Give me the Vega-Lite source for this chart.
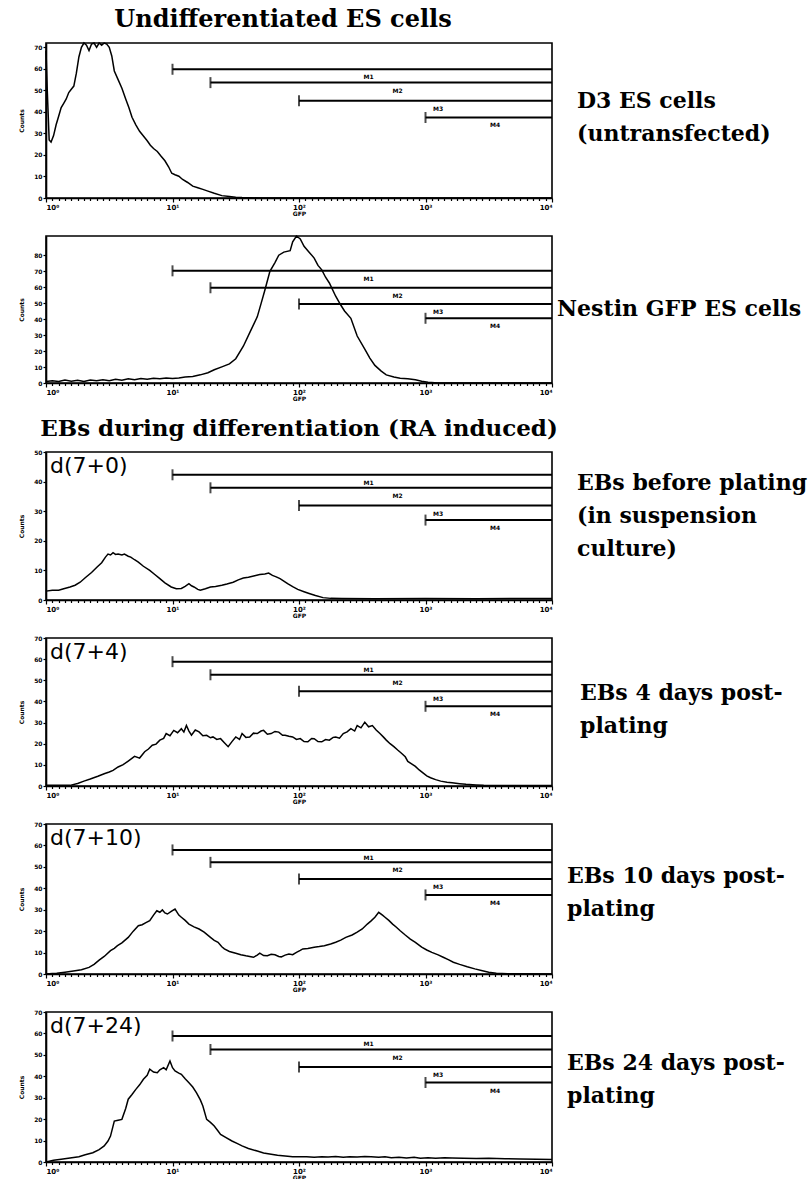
{
  "$schema": "https://vega.github.io/schema/vega-lite/v6.json",
  "background": "white",
  "padding": {"left": 17, "top": 7, "right": 0, "bottom": 0},
  "spacing": 15,
  "config": {
    "view": {"stroke": "black", "strokeWidth": 1.6},
    "font": "DejaVu Sans",
    "title": {"font": "DejaVu Serif", "fontSize": 23, "fontWeight": "bold", "color": "black", "anchor": "middle", "baseline": "bottom", "offset": 8},
    "axis": {"domainColor": "black", "domainWidth": 1.6, "tickColor": "black", "tickWidth": 1.2, "labelColor": "black", "labelFont": "DejaVu Sans", "labelFontSize": 6, "labelFontWeight": "bold", "titleColor": "black", "titleFont": "DejaVu Sans", "titleFontSize": 6, "titleFontWeight": "bold", "grid": false, "labelPadding": 1, "labelOverlap": false, "labelBound": false},
    "axisX": {"values": [0, 0.301, 0.477, 0.602, 0.699, 0.778, 0.845, 0.903, 0.954, 1, 1.301, 1.477, 1.602, 1.699, 1.778, 1.845, 1.903, 1.954, 2, 2.301, 2.477, 2.602, 2.699, 2.778, 2.845, 2.903, 2.954, 3, 3.301, 3.477, 3.602, 3.699, 3.778, 3.845, 3.903, 3.954, 4], "tickCount": 60, "labelFontSize": 7, "titlePadding": 0}
  },
  "datasets": {
    "gates": [
      {"panel": 1, "gate": "M1", "start": 1, "mid": 2.55, "level": 59.8},
      {"panel": 1, "gate": "M2", "start": 1.3, "mid": 2.78, "level": 53.6},
      {"panel": 1, "gate": "M3", "start": 2, "mid": 3.1, "level": 45.2},
      {"panel": 1, "gate": "M4", "start": 3, "mid": 3.55, "level": 37.4},
      {"panel": 2, "gate": "M1", "start": 1, "mid": 2.55, "level": 70.2},
      {"panel": 2, "gate": "M2", "start": 1.3, "mid": 2.78, "level": 59.6},
      {"panel": 2, "gate": "M3", "start": 2, "mid": 3.1, "level": 49.5},
      {"panel": 2, "gate": "M4", "start": 3, "mid": 3.55, "level": 40.5},
      {"panel": 3, "gate": "M1", "start": 1, "mid": 2.55, "level": 42.3},
      {"panel": 3, "gate": "M2", "start": 1.3, "mid": 2.78, "level": 37.9},
      {"panel": 3, "gate": "M3", "start": 2, "mid": 3.1, "level": 31.9},
      {"panel": 3, "gate": "M4", "start": 3, "mid": 3.55, "level": 27},
      {"panel": 4, "gate": "M1", "start": 1, "mid": 2.55, "level": 58.8},
      {"panel": 4, "gate": "M2", "start": 1.3, "mid": 2.78, "level": 52.6},
      {"panel": 4, "gate": "M3", "start": 2, "mid": 3.1, "level": 44.8},
      {"panel": 4, "gate": "M4", "start": 3, "mid": 3.55, "level": 37.7},
      {"panel": 5, "gate": "M1", "start": 1, "mid": 2.55, "level": 57.9},
      {"panel": 5, "gate": "M2", "start": 1.3, "mid": 2.78, "level": 52.1},
      {"panel": 5, "gate": "M3", "start": 2, "mid": 3.1, "level": 44.3},
      {"panel": 5, "gate": "M4", "start": 3, "mid": 3.55, "level": 36.9},
      {"panel": 6, "gate": "M1", "start": 1, "mid": 2.55, "level": 58.8},
      {"panel": 6, "gate": "M2", "start": 1.3, "mid": 2.78, "level": 52.5},
      {"panel": 6, "gate": "M3", "start": 2, "mid": 3.1, "level": 44.3},
      {"panel": 6, "gate": "M4", "start": 3, "mid": 3.55, "level": 37.1}
    ],
    "c1": [
      {"logGFP": 0, "count": 68.4}, {"logGFP": 0.01, "count": 50}, {"logGFP": 0.025, "count": 27}, {"logGFP": 0.04, "count": 26}, {"logGFP": 0.06, "count": 29}, {"logGFP": 0.08, "count": 34}, {"logGFP": 0.1, "count": 38}, {"logGFP": 0.12, "count": 42}, {"logGFP": 0.14, "count": 44}, {"logGFP": 0.16, "count": 46}, {"logGFP": 0.18, "count": 49}, {"logGFP": 0.2, "count": 50.5}, {"logGFP": 0.22, "count": 52}, {"logGFP": 0.24, "count": 58}, {"logGFP": 0.26, "count": 65.5}, {"logGFP": 0.28, "count": 70}, {"logGFP": 0.3, "count": 72}, {"logGFP": 0.32, "count": 71}, {"logGFP": 0.34, "count": 68.5}, {"logGFP": 0.36, "count": 71.5}, {"logGFP": 0.38, "count": 72}, {"logGFP": 0.4, "count": 70}, {"logGFP": 0.42, "count": 72}, {"logGFP": 0.44, "count": 71}, {"logGFP": 0.46, "count": 72}, {"logGFP": 0.48, "count": 71.5}, {"logGFP": 0.5, "count": 70}, {"logGFP": 0.52, "count": 66}, {"logGFP": 0.54, "count": 59}, {"logGFP": 0.57, "count": 55}, {"logGFP": 0.6, "count": 51}, {"logGFP": 0.63, "count": 46}, {"logGFP": 0.655, "count": 42}, {"logGFP": 0.68, "count": 37.5}, {"logGFP": 0.71, "count": 34}, {"logGFP": 0.74, "count": 31}, {"logGFP": 0.77, "count": 28.8}, {"logGFP": 0.8, "count": 26.6}, {"logGFP": 0.825, "count": 24.5}, {"logGFP": 0.85, "count": 23}, {"logGFP": 0.88, "count": 21.6}, {"logGFP": 0.91, "count": 19.4}, {"logGFP": 0.94, "count": 17.3}, {"logGFP": 0.97, "count": 14.4}, {"logGFP": 0.994, "count": 11.5}, {"logGFP": 1.02, "count": 10.8}, {"logGFP": 1.05, "count": 10.1}, {"logGFP": 1.08, "count": 8.6}, {"logGFP": 1.12, "count": 7.2}, {"logGFP": 1.16, "count": 5.5}, {"logGFP": 1.2, "count": 4.8}, {"logGFP": 1.24, "count": 4}, {"logGFP": 1.28, "count": 3.2}, {"logGFP": 1.33, "count": 2.2}, {"logGFP": 1.39, "count": 1.1}, {"logGFP": 1.45, "count": 0.7}, {"logGFP": 1.5, "count": 0.4}, {"logGFP": 1.55, "count": 0.2}, {"logGFP": 1.62, "count": 0.1}, {"logGFP": 1.7, "count": 0}, {"logGFP": 4, "count": 0}
    ],
    "c2": [
      {"logGFP": 0, "count": 0.9}, {"logGFP": 0.05, "count": 1.4}, {"logGFP": 0.1, "count": 0.9}, {"logGFP": 0.15, "count": 1.8}, {"logGFP": 0.2, "count": 1.1}, {"logGFP": 0.25, "count": 1.7}, {"logGFP": 0.3, "count": 0.9}, {"logGFP": 0.35, "count": 1.8}, {"logGFP": 0.4, "count": 1.4}, {"logGFP": 0.45, "count": 2}, {"logGFP": 0.5, "count": 1.4}, {"logGFP": 0.55, "count": 2.3}, {"logGFP": 0.6, "count": 1.8}, {"logGFP": 0.65, "count": 2.6}, {"logGFP": 0.7, "count": 2}, {"logGFP": 0.75, "count": 2.8}, {"logGFP": 0.8, "count": 2.3}, {"logGFP": 0.85, "count": 2.9}, {"logGFP": 0.9, "count": 2.6}, {"logGFP": 0.95, "count": 3.2}, {"logGFP": 1, "count": 2.8}, {"logGFP": 1.05, "count": 3.2}, {"logGFP": 1.1, "count": 3.7}, {"logGFP": 1.16, "count": 4.1}, {"logGFP": 1.22, "count": 5.1}, {"logGFP": 1.28, "count": 6.4}, {"logGFP": 1.33, "count": 8.3}, {"logGFP": 1.39, "count": 10.1}, {"logGFP": 1.45, "count": 12}, {"logGFP": 1.5, "count": 15.2}, {"logGFP": 1.56, "count": 23}, {"logGFP": 1.62, "count": 33.1}, {"logGFP": 1.67, "count": 41.4}, {"logGFP": 1.7, "count": 49.7}, {"logGFP": 1.73, "count": 58}, {"logGFP": 1.77, "count": 69.9}, {"logGFP": 1.81, "count": 75.4}, {"logGFP": 1.84, "count": 80}, {"logGFP": 1.88, "count": 81.9}, {"logGFP": 1.93, "count": 82.8}, {"logGFP": 1.95, "count": 88.3}, {"logGFP": 1.98, "count": 92}, {"logGFP": 2.01, "count": 90.2}, {"logGFP": 2.04, "count": 85.6}, {"logGFP": 2.08, "count": 81.9}, {"logGFP": 2.12, "count": 78.2}, {"logGFP": 2.15, "count": 73.6}, {"logGFP": 2.18, "count": 70.8}, {"logGFP": 2.21, "count": 66.2}, {"logGFP": 2.24, "count": 62.6}, {"logGFP": 2.29, "count": 54.3}, {"logGFP": 2.33, "count": 48.8}, {"logGFP": 2.36, "count": 45.1}, {"logGFP": 2.41, "count": 40.5}, {"logGFP": 2.46, "count": 29.4}, {"logGFP": 2.52, "count": 21.2}, {"logGFP": 2.56, "count": 15.6}, {"logGFP": 2.6, "count": 11}, {"logGFP": 2.65, "count": 7.4}, {"logGFP": 2.69, "count": 5.1}, {"logGFP": 2.75, "count": 3.7}, {"logGFP": 2.8, "count": 3}, {"logGFP": 2.86, "count": 2.6}, {"logGFP": 2.92, "count": 2}, {"logGFP": 2.97, "count": 1.1}, {"logGFP": 3.02, "count": 0.5}, {"logGFP": 3.1, "count": 0}, {"logGFP": 4, "count": 0}
    ],
    "c3": [
      {"logGFP": 0, "count": 3}, {"logGFP": 0.05, "count": 3.3}, {"logGFP": 0.1, "count": 3.3}, {"logGFP": 0.14, "count": 3.8}, {"logGFP": 0.19, "count": 4.4}, {"logGFP": 0.23, "count": 5}, {"logGFP": 0.27, "count": 6}, {"logGFP": 0.31, "count": 7.5}, {"logGFP": 0.36, "count": 9.3}, {"logGFP": 0.4, "count": 11}, {"logGFP": 0.44, "count": 12.6}, {"logGFP": 0.47, "count": 14.5}, {"logGFP": 0.49, "count": 15.5}, {"logGFP": 0.51, "count": 15.2}, {"logGFP": 0.53, "count": 16}, {"logGFP": 0.55, "count": 15.4}, {"logGFP": 0.57, "count": 15.5}, {"logGFP": 0.6, "count": 15.2}, {"logGFP": 0.62, "count": 15.5}, {"logGFP": 0.65, "count": 14.8}, {"logGFP": 0.67, "count": 14.5}, {"logGFP": 0.7, "count": 13.6}, {"logGFP": 0.73, "count": 12.8}, {"logGFP": 0.77, "count": 11.4}, {"logGFP": 0.82, "count": 10}, {"logGFP": 0.86, "count": 8.6}, {"logGFP": 0.9, "count": 7.2}, {"logGFP": 0.94, "count": 5.8}, {"logGFP": 0.99, "count": 4.4}, {"logGFP": 1.03, "count": 3.8}, {"logGFP": 1.07, "count": 3.9}, {"logGFP": 1.1, "count": 4.6}, {"logGFP": 1.13, "count": 5.5}, {"logGFP": 1.15, "count": 4.8}, {"logGFP": 1.17, "count": 4.4}, {"logGFP": 1.2, "count": 3.6}, {"logGFP": 1.22, "count": 3.3}, {"logGFP": 1.26, "count": 3.8}, {"logGFP": 1.3, "count": 4.4}, {"logGFP": 1.34, "count": 4.6}, {"logGFP": 1.39, "count": 5}, {"logGFP": 1.43, "count": 5.4}, {"logGFP": 1.48, "count": 6}, {"logGFP": 1.52, "count": 6.8}, {"logGFP": 1.56, "count": 7.4}, {"logGFP": 1.6, "count": 7.7}, {"logGFP": 1.65, "count": 8.2}, {"logGFP": 1.69, "count": 8.6}, {"logGFP": 1.73, "count": 8.8}, {"logGFP": 1.76, "count": 9.1}, {"logGFP": 1.79, "count": 8.3}, {"logGFP": 1.82, "count": 7.8}, {"logGFP": 1.85, "count": 7.2}, {"logGFP": 1.88, "count": 6.4}, {"logGFP": 1.91, "count": 5.5}, {"logGFP": 1.95, "count": 4.5}, {"logGFP": 1.99, "count": 3.6}, {"logGFP": 2.04, "count": 2.8}, {"logGFP": 2.08, "count": 2.2}, {"logGFP": 2.13, "count": 1.5}, {"logGFP": 2.19, "count": 0.8}, {"logGFP": 2.25, "count": 0.55}, {"logGFP": 2.34, "count": 0.5}, {"logGFP": 2.6, "count": 0.45}, {"logGFP": 3, "count": 0.5}, {"logGFP": 3.4, "count": 0.45}, {"logGFP": 4, "count": 0.5}
    ],
    "c4": [
      {"logGFP": 0, "count": 0.3}, {"logGFP": 0.1, "count": 0.3}, {"logGFP": 0.19, "count": 0.3}, {"logGFP": 0.25, "count": 1.2}, {"logGFP": 0.3, "count": 2.3}, {"logGFP": 0.35, "count": 3.3}, {"logGFP": 0.41, "count": 4.6}, {"logGFP": 0.46, "count": 5.8}, {"logGFP": 0.5, "count": 6.6}, {"logGFP": 0.53, "count": 7.4}, {"logGFP": 0.57, "count": 9}, {"logGFP": 0.61, "count": 10.1}, {"logGFP": 0.65, "count": 11.8}, {"logGFP": 0.7, "count": 14}, {"logGFP": 0.74, "count": 13.2}, {"logGFP": 0.78, "count": 16.2}, {"logGFP": 0.81, "count": 17.5}, {"logGFP": 0.84, "count": 19.3}, {"logGFP": 0.87, "count": 19.8}, {"logGFP": 0.9, "count": 21.7}, {"logGFP": 0.93, "count": 22.5}, {"logGFP": 0.95, "count": 24.8}, {"logGFP": 0.98, "count": 23.8}, {"logGFP": 1.01, "count": 26.3}, {"logGFP": 1.04, "count": 25.2}, {"logGFP": 1.07, "count": 27.1}, {"logGFP": 1.09, "count": 25.5}, {"logGFP": 1.11, "count": 28.6}, {"logGFP": 1.13, "count": 26}, {"logGFP": 1.15, "count": 24}, {"logGFP": 1.18, "count": 26.5}, {"logGFP": 1.21, "count": 25.6}, {"logGFP": 1.24, "count": 23.8}, {"logGFP": 1.27, "count": 24}, {"logGFP": 1.3, "count": 22.8}, {"logGFP": 1.32, "count": 23.2}, {"logGFP": 1.35, "count": 22}, {"logGFP": 1.38, "count": 22.4}, {"logGFP": 1.41, "count": 20.5}, {"logGFP": 1.44, "count": 18.6}, {"logGFP": 1.47, "count": 21}, {"logGFP": 1.5, "count": 23.2}, {"logGFP": 1.53, "count": 22}, {"logGFP": 1.55, "count": 24.8}, {"logGFP": 1.58, "count": 23}, {"logGFP": 1.61, "count": 23.2}, {"logGFP": 1.64, "count": 25}, {"logGFP": 1.67, "count": 24.8}, {"logGFP": 1.7, "count": 26}, {"logGFP": 1.72, "count": 26.3}, {"logGFP": 1.75, "count": 24.5}, {"logGFP": 1.78, "count": 24.8}, {"logGFP": 1.81, "count": 25.8}, {"logGFP": 1.84, "count": 25.5}, {"logGFP": 1.87, "count": 24}, {"logGFP": 1.89, "count": 24}, {"logGFP": 1.92, "count": 23.5}, {"logGFP": 1.95, "count": 23.2}, {"logGFP": 1.98, "count": 22}, {"logGFP": 2.01, "count": 22.4}, {"logGFP": 2.04, "count": 21}, {"logGFP": 2.07, "count": 20.9}, {"logGFP": 2.1, "count": 22.5}, {"logGFP": 2.12, "count": 22.4}, {"logGFP": 2.15, "count": 21}, {"logGFP": 2.18, "count": 20.9}, {"logGFP": 2.21, "count": 22}, {"logGFP": 2.24, "count": 21.7}, {"logGFP": 2.27, "count": 23}, {"logGFP": 2.29, "count": 23.2}, {"logGFP": 2.32, "count": 22.6}, {"logGFP": 2.35, "count": 24.8}, {"logGFP": 2.38, "count": 25.6}, {"logGFP": 2.41, "count": 27.1}, {"logGFP": 2.44, "count": 26}, {"logGFP": 2.46, "count": 28.6}, {"logGFP": 2.49, "count": 27.5}, {"logGFP": 2.52, "count": 30.2}, {"logGFP": 2.55, "count": 28}, {"logGFP": 2.58, "count": 28.6}, {"logGFP": 2.61, "count": 26.5}, {"logGFP": 2.64, "count": 24.8}, {"logGFP": 2.67, "count": 23}, {"logGFP": 2.69, "count": 21.7}, {"logGFP": 2.72, "count": 20}, {"logGFP": 2.75, "count": 18.6}, {"logGFP": 2.78, "count": 17}, {"logGFP": 2.81, "count": 15.5}, {"logGFP": 2.84, "count": 13.8}, {"logGFP": 2.86, "count": 11.6}, {"logGFP": 2.89, "count": 10.5}, {"logGFP": 2.92, "count": 9.3}, {"logGFP": 2.95, "count": 7.6}, {"logGFP": 2.98, "count": 6.2}, {"logGFP": 3.01, "count": 4.8}, {"logGFP": 3.04, "count": 3.9}, {"logGFP": 3.08, "count": 3}, {"logGFP": 3.12, "count": 2.3}, {"logGFP": 3.17, "count": 1.8}, {"logGFP": 3.21, "count": 1.5}, {"logGFP": 3.27, "count": 1.1}, {"logGFP": 3.32, "count": 0.8}, {"logGFP": 3.4, "count": 0.5}, {"logGFP": 3.46, "count": 0.3}, {"logGFP": 3.55, "count": 0.2}, {"logGFP": 4, "count": 0.2}
    ],
    "c5": [
      {"logGFP": 0, "count": 0}, {"logGFP": 0.05, "count": 0.2}, {"logGFP": 0.085, "count": 0.3}, {"logGFP": 0.15, "count": 0.8}, {"logGFP": 0.23, "count": 1.5}, {"logGFP": 0.28, "count": 2}, {"logGFP": 0.34, "count": 3.1}, {"logGFP": 0.38, "count": 4.5}, {"logGFP": 0.42, "count": 6.5}, {"logGFP": 0.46, "count": 8.2}, {"logGFP": 0.51, "count": 10.9}, {"logGFP": 0.54, "count": 12}, {"logGFP": 0.565, "count": 13.2}, {"logGFP": 0.6, "count": 14.5}, {"logGFP": 0.65, "count": 17.1}, {"logGFP": 0.69, "count": 20}, {"logGFP": 0.73, "count": 22.5}, {"logGFP": 0.76, "count": 23}, {"logGFP": 0.79, "count": 24}, {"logGFP": 0.82, "count": 24.9}, {"logGFP": 0.85, "count": 27.5}, {"logGFP": 0.876, "count": 29.5}, {"logGFP": 0.9, "count": 28.8}, {"logGFP": 0.92, "count": 29.9}, {"logGFP": 0.94, "count": 28.5}, {"logGFP": 0.96, "count": 28}, {"logGFP": 0.99, "count": 29.2}, {"logGFP": 1.02, "count": 30.3}, {"logGFP": 1.05, "count": 27.5}, {"logGFP": 1.07, "count": 26.5}, {"logGFP": 1.1, "count": 25}, {"logGFP": 1.13, "count": 23.3}, {"logGFP": 1.17, "count": 22}, {"logGFP": 1.21, "count": 21}, {"logGFP": 1.25, "count": 19.5}, {"logGFP": 1.3, "count": 17.1}, {"logGFP": 1.33, "count": 15.7}, {"logGFP": 1.36, "count": 14.8}, {"logGFP": 1.39, "count": 12.7}, {"logGFP": 1.41, "count": 11.7}, {"logGFP": 1.45, "count": 10.5}, {"logGFP": 1.5, "count": 9.7}, {"logGFP": 1.54, "count": 9}, {"logGFP": 1.58, "count": 8.5}, {"logGFP": 1.61, "count": 8.2}, {"logGFP": 1.64, "count": 7.8}, {"logGFP": 1.67, "count": 8.8}, {"logGFP": 1.69, "count": 9.7}, {"logGFP": 1.72, "count": 8.6}, {"logGFP": 1.75, "count": 8.5}, {"logGFP": 1.78, "count": 9.2}, {"logGFP": 1.81, "count": 9}, {"logGFP": 1.84, "count": 8.2}, {"logGFP": 1.86, "count": 8}, {"logGFP": 1.89, "count": 8.8}, {"logGFP": 1.92, "count": 9.3}, {"logGFP": 1.95, "count": 9}, {"logGFP": 1.98, "count": 10.1}, {"logGFP": 2.01, "count": 11}, {"logGFP": 2.03, "count": 11.7}, {"logGFP": 2.07, "count": 11.9}, {"logGFP": 2.12, "count": 12.5}, {"logGFP": 2.16, "count": 12.8}, {"logGFP": 2.2, "count": 13.2}, {"logGFP": 2.25, "count": 14}, {"logGFP": 2.29, "count": 14.8}, {"logGFP": 2.33, "count": 15.8}, {"logGFP": 2.37, "count": 17.1}, {"logGFP": 2.42, "count": 18.2}, {"logGFP": 2.46, "count": 19.5}, {"logGFP": 2.5, "count": 21}, {"logGFP": 2.54, "count": 23.3}, {"logGFP": 2.57, "count": 24.8}, {"logGFP": 2.6, "count": 26.5}, {"logGFP": 2.63, "count": 28.8}, {"logGFP": 2.66, "count": 27.5}, {"logGFP": 2.68, "count": 26.5}, {"logGFP": 2.71, "count": 25}, {"logGFP": 2.74, "count": 23.3}, {"logGFP": 2.77, "count": 21.8}, {"logGFP": 2.8, "count": 20.2}, {"logGFP": 2.84, "count": 18.2}, {"logGFP": 2.88, "count": 16.3}, {"logGFP": 2.92, "count": 14.8}, {"logGFP": 2.97, "count": 12.5}, {"logGFP": 3.01, "count": 11.2}, {"logGFP": 3.05, "count": 10.1}, {"logGFP": 3.1, "count": 8.9}, {"logGFP": 3.14, "count": 7.8}, {"logGFP": 3.18, "count": 6.7}, {"logGFP": 3.22, "count": 5.5}, {"logGFP": 3.27, "count": 4.5}, {"logGFP": 3.33, "count": 3.4}, {"logGFP": 3.39, "count": 2.4}, {"logGFP": 3.45, "count": 1.5}, {"logGFP": 3.5, "count": 0.8}, {"logGFP": 3.56, "count": 0.3}, {"logGFP": 3.65, "count": 0.1}, {"logGFP": 4, "count": 0}
    ],
    "c6": [
      {"logGFP": 0, "count": 0}, {"logGFP": 0.06, "count": 0.8}, {"logGFP": 0.12, "count": 1.3}, {"logGFP": 0.19, "count": 1.9}, {"logGFP": 0.26, "count": 2.5}, {"logGFP": 0.31, "count": 3.4}, {"logGFP": 0.37, "count": 4.3}, {"logGFP": 0.42, "count": 5.8}, {"logGFP": 0.46, "count": 7.5}, {"logGFP": 0.49, "count": 9.8}, {"logGFP": 0.51, "count": 12.1}, {"logGFP": 0.54, "count": 19.1}, {"logGFP": 0.57, "count": 19.5}, {"logGFP": 0.6, "count": 19.9}, {"logGFP": 0.63, "count": 25}, {"logGFP": 0.65, "count": 29.3}, {"logGFP": 0.68, "count": 31.5}, {"logGFP": 0.71, "count": 33.9}, {"logGFP": 0.74, "count": 36}, {"logGFP": 0.77, "count": 38.6}, {"logGFP": 0.8, "count": 40.5}, {"logGFP": 0.82, "count": 43.3}, {"logGFP": 0.85, "count": 42}, {"logGFP": 0.88, "count": 41.7}, {"logGFP": 0.9, "count": 43}, {"logGFP": 0.93, "count": 44}, {"logGFP": 0.95, "count": 43}, {"logGFP": 0.98, "count": 47.1}, {"logGFP": 1, "count": 44}, {"logGFP": 1.02, "count": 42.5}, {"logGFP": 1.05, "count": 41.5}, {"logGFP": 1.07, "count": 40.9}, {"logGFP": 1.1, "count": 38.8}, {"logGFP": 1.13, "count": 37}, {"logGFP": 1.16, "count": 35}, {"logGFP": 1.19, "count": 32.3}, {"logGFP": 1.22, "count": 29}, {"logGFP": 1.24, "count": 26.1}, {"logGFP": 1.27, "count": 19.9}, {"logGFP": 1.3, "count": 18.5}, {"logGFP": 1.33, "count": 16.8}, {"logGFP": 1.36, "count": 14.5}, {"logGFP": 1.38, "count": 12.9}, {"logGFP": 1.42, "count": 11.5}, {"logGFP": 1.47, "count": 9.8}, {"logGFP": 1.51, "count": 8.7}, {"logGFP": 1.55, "count": 7.5}, {"logGFP": 1.6, "count": 6.3}, {"logGFP": 1.67, "count": 5.1}, {"logGFP": 1.72, "count": 4.2}, {"logGFP": 1.78, "count": 3.6}, {"logGFP": 1.83, "count": 3.1}, {"logGFP": 1.89, "count": 2.8}, {"logGFP": 1.95, "count": 2.5}, {"logGFP": 2, "count": 2.4}, {"logGFP": 2.06, "count": 2.5}, {"logGFP": 2.12, "count": 2.2}, {"logGFP": 2.18, "count": 2.4}, {"logGFP": 2.23, "count": 2.3}, {"logGFP": 2.29, "count": 2.6}, {"logGFP": 2.35, "count": 2.2}, {"logGFP": 2.4, "count": 2.5}, {"logGFP": 2.46, "count": 2.3}, {"logGFP": 2.52, "count": 2.6}, {"logGFP": 2.57, "count": 2.5}, {"logGFP": 2.63, "count": 2.2}, {"logGFP": 2.68, "count": 2.4}, {"logGFP": 2.73, "count": 2}, {"logGFP": 2.79, "count": 2.2}, {"logGFP": 2.85, "count": 1.9}, {"logGFP": 2.91, "count": 2.2}, {"logGFP": 2.96, "count": 1.8}, {"logGFP": 3.02, "count": 2}, {"logGFP": 3.08, "count": 1.8}, {"logGFP": 3.15, "count": 2}, {"logGFP": 3.21, "count": 1.9}, {"logGFP": 3.3, "count": 1.7}, {"logGFP": 3.4, "count": 1.6}, {"logGFP": 3.5, "count": 1.7}, {"logGFP": 3.63, "count": 1.5}, {"logGFP": 3.75, "count": 1.4}, {"logGFP": 3.88, "count": 1.3}, {"logGFP": 4, "count": 1.2}
    ]
  },
  "vconcat": [
    {
      "width": 506, "height": 155,
      "title": {"text": "Undifferentiated ES cells", "fontSize": 24, "dx": -16},
      "layer": [
        {"data": {"name": "c1"}, "mark": {"type": "line", "color": "black", "strokeWidth": 1.5},
         "encoding": {
           "x": {"field": "logGFP", "type": "quantitative", "scale": {"domain": [0, 4], "nice": false, "zero": false},
                 "axis": {"labelExpr": "datum.value % 1 === 0 ? '10' + ['⁰','¹','²','³','⁴'][round(datum.value)] : ''", "tickSize": {"condition": {"test": "datum.value % 1 === 0", "value": 4}, "value": 2.5}, "title": "GFP"}},
           "y": {"field": "count", "type": "quantitative", "scale": {"domain": [0, 72], "nice": false},
                 "axis": {"values": [0, 10, 20, 30, 40, 50, 60, 70], "tickCount": 20, "tickSize": 3, "title": "Counts", "titlePadding": 9}}
         }},
        {"data": {"name": "gates"}, "transform": [{"filter": "datum.panel == 1"}], "mark": {"type": "rule", "color": "black", "strokeWidth": 2},
         "encoding": {"x": {"field": "start", "type": "quantitative"}, "x2": {"datum": 4}, "y": {"field": "level", "type": "quantitative"}}},
        {"data": {"name": "gates"}, "transform": [{"filter": "datum.panel == 1"}], "mark": {"type": "tick", "orient": "vertical", "color": "black", "thickness": 2, "size": 11},
         "encoding": {"x": {"field": "start", "type": "quantitative"}, "y": {"field": "level", "type": "quantitative"}}},
        {"data": {"name": "gates"}, "transform": [{"filter": "datum.panel == 1"}], "mark": {"type": "text", "fontSize": 6, "fontWeight": "bold", "dy": 8, "baseline": "middle", "color": "black"},
         "encoding": {"x": {"field": "mid", "type": "quantitative"}, "y": {"field": "level", "type": "quantitative"}, "text": {"field": "gate"}}},
        {"data": {"values": [{"label": ["D3 ES cells", "(untransfected)"]}]}, "mark": {"type": "text", "font": "DejaVu Serif", "fontWeight": "bold", "fontSize": 22, "align": "left", "baseline": "top", "lineHeight": 33, "dx": 25, "color": "black"},
         "encoding": {"x": {"datum": 4}, "y": {"datum": 49.5}, "text": {"field": "label"}}}
      ]
    },
    {
      "width": 506, "height": 147,
      "layer": [
        {"data": {"name": "c2"}, "mark": {"type": "line", "color": "black", "strokeWidth": 1.5},
         "encoding": {
           "x": {"field": "logGFP", "type": "quantitative", "scale": {"domain": [0, 4], "nice": false, "zero": false},
                 "axis": {"labelExpr": "datum.value % 1 === 0 ? '10' + ['⁰','¹','²','³','⁴'][round(datum.value)] : ''", "tickSize": {"condition": {"test": "datum.value % 1 === 0", "value": 4}, "value": 2.5}, "title": "GFP"}},
           "y": {"field": "count", "type": "quantitative", "scale": {"domain": [0, 92], "nice": false},
                 "axis": {"values": [0, 10, 20, 30, 40, 50, 60, 70, 80], "tickCount": 20, "tickSize": 3, "title": "Counts", "titlePadding": 9}}
         }},
        {"data": {"name": "gates"}, "transform": [{"filter": "datum.panel == 2"}], "mark": {"type": "rule", "color": "black", "strokeWidth": 2},
         "encoding": {"x": {"field": "start", "type": "quantitative"}, "x2": {"datum": 4}, "y": {"field": "level", "type": "quantitative"}}},
        {"data": {"name": "gates"}, "transform": [{"filter": "datum.panel == 2"}], "mark": {"type": "tick", "orient": "vertical", "color": "black", "thickness": 2, "size": 11},
         "encoding": {"x": {"field": "start", "type": "quantitative"}, "y": {"field": "level", "type": "quantitative"}}},
        {"data": {"name": "gates"}, "transform": [{"filter": "datum.panel == 2"}], "mark": {"type": "text", "fontSize": 6, "fontWeight": "bold", "dy": 8, "baseline": "middle", "color": "black"},
         "encoding": {"x": {"field": "mid", "type": "quantitative"}, "y": {"field": "level", "type": "quantitative"}, "text": {"field": "gate"}}},
        {"data": {"values": [{"label": ["Nestin GFP ES cells"]}]}, "mark": {"type": "text", "font": "DejaVu Serif", "fontWeight": "bold", "fontSize": 22, "align": "left", "baseline": "top", "lineHeight": 33, "dx": 5, "color": "black"},
         "encoding": {"x": {"datum": 4}, "y": {"datum": 52.5}, "text": {"field": "label"}}}
      ]
    },
    {
      "width": 506, "height": 148,
      "title": {"text": "EBs during differentiation (RA induced)", "fontSize": 23},
      "layer": [
        {"data": {"name": "c3"}, "mark": {"type": "line", "color": "black", "strokeWidth": 1.5},
         "encoding": {
           "x": {"field": "logGFP", "type": "quantitative", "scale": {"domain": [0, 4], "nice": false, "zero": false},
                 "axis": {"labelExpr": "datum.value % 1 === 0 ? '10' + ['⁰','¹','²','³','⁴'][round(datum.value)] : ''", "tickSize": {"condition": {"test": "datum.value % 1 === 0", "value": 4}, "value": 2.5}, "title": "GFP"}},
           "y": {"field": "count", "type": "quantitative", "scale": {"domain": [0, 50], "nice": false},
                 "axis": {"values": [0, 10, 20, 30, 40, 50], "tickCount": 20, "tickSize": 3, "title": "Counts", "titlePadding": 9}}
         }},
        {"data": {"name": "gates"}, "transform": [{"filter": "datum.panel == 3"}], "mark": {"type": "rule", "color": "black", "strokeWidth": 2},
         "encoding": {"x": {"field": "start", "type": "quantitative"}, "x2": {"datum": 4}, "y": {"field": "level", "type": "quantitative"}}},
        {"data": {"name": "gates"}, "transform": [{"filter": "datum.panel == 3"}], "mark": {"type": "tick", "orient": "vertical", "color": "black", "thickness": 2, "size": 11},
         "encoding": {"x": {"field": "start", "type": "quantitative"}, "y": {"field": "level", "type": "quantitative"}}},
        {"data": {"name": "gates"}, "transform": [{"filter": "datum.panel == 3"}], "mark": {"type": "text", "fontSize": 6, "fontWeight": "bold", "dy": 8, "baseline": "middle", "color": "black"},
         "encoding": {"x": {"field": "mid", "type": "quantitative"}, "y": {"field": "level", "type": "quantitative"}, "text": {"field": "gate"}}},
        {"data": {"values": [{"day": "d(7+0)"}]}, "mark": {"type": "text", "font": "DejaVu Sans", "fontSize": 22, "align": "left", "baseline": "top", "dx": 4, "dy": 4, "color": "black"},
         "encoding": {"x": {"datum": 0}, "y": {"datum": 50}, "text": {"field": "day"}}},
        {"data": {"values": [{"label": ["EBs before plating", "(in suspension", "culture)"]}]}, "mark": {"type": "text", "font": "DejaVu Serif", "fontWeight": "bold", "fontSize": 22, "align": "left", "baseline": "top", "lineHeight": 33, "dx": 25, "color": "black"},
         "encoding": {"x": {"datum": 4}, "y": {"datum": 43}, "text": {"field": "label"}}}
      ]
    },
    {
      "width": 506, "height": 148,
      "layer": [
        {"data": {"name": "c4"}, "mark": {"type": "line", "color": "black", "strokeWidth": 1.5},
         "encoding": {
           "x": {"field": "logGFP", "type": "quantitative", "scale": {"domain": [0, 4], "nice": false, "zero": false},
                 "axis": {"labelExpr": "datum.value % 1 === 0 ? '10' + ['⁰','¹','²','³','⁴'][round(datum.value)] : ''", "tickSize": {"condition": {"test": "datum.value % 1 === 0", "value": 4}, "value": 2.5}, "title": "GFP"}},
           "y": {"field": "count", "type": "quantitative", "scale": {"domain": [0, 70], "nice": false},
                 "axis": {"values": [0, 10, 20, 30, 40, 50, 60, 70], "tickCount": 20, "tickSize": 3, "title": "Counts", "titlePadding": 9}}
         }},
        {"data": {"name": "gates"}, "transform": [{"filter": "datum.panel == 4"}], "mark": {"type": "rule", "color": "black", "strokeWidth": 2},
         "encoding": {"x": {"field": "start", "type": "quantitative"}, "x2": {"datum": 4}, "y": {"field": "level", "type": "quantitative"}}},
        {"data": {"name": "gates"}, "transform": [{"filter": "datum.panel == 4"}], "mark": {"type": "tick", "orient": "vertical", "color": "black", "thickness": 2, "size": 11},
         "encoding": {"x": {"field": "start", "type": "quantitative"}, "y": {"field": "level", "type": "quantitative"}}},
        {"data": {"name": "gates"}, "transform": [{"filter": "datum.panel == 4"}], "mark": {"type": "text", "fontSize": 6, "fontWeight": "bold", "dy": 8, "baseline": "middle", "color": "black"},
         "encoding": {"x": {"field": "mid", "type": "quantitative"}, "y": {"field": "level", "type": "quantitative"}, "text": {"field": "gate"}}},
        {"data": {"values": [{"day": "d(7+4)"}]}, "mark": {"type": "text", "font": "DejaVu Sans", "fontSize": 22, "align": "left", "baseline": "top", "dx": 4, "dy": 4, "color": "black"},
         "encoding": {"x": {"datum": 0}, "y": {"datum": 70}, "text": {"field": "day"}}},
        {"data": {"values": [{"label": ["EBs 4 days post-", "plating"]}]}, "mark": {"type": "text", "font": "DejaVu Serif", "fontWeight": "bold", "fontSize": 22, "align": "left", "baseline": "top", "lineHeight": 33, "dx": 28, "color": "black"},
         "encoding": {"x": {"datum": 4}, "y": {"datum": 48.5}, "text": {"field": "label"}}}
      ]
    },
    {
      "width": 506, "height": 150,
      "layer": [
        {"data": {"name": "c5"}, "mark": {"type": "line", "color": "black", "strokeWidth": 1.5},
         "encoding": {
           "x": {"field": "logGFP", "type": "quantitative", "scale": {"domain": [0, 4], "nice": false, "zero": false},
                 "axis": {"labelExpr": "datum.value % 1 === 0 ? '10' + ['⁰','¹','²','³','⁴'][round(datum.value)] : ''", "tickSize": {"condition": {"test": "datum.value % 1 === 0", "value": 4}, "value": 2.5}, "title": "GFP"}},
           "y": {"field": "count", "type": "quantitative", "scale": {"domain": [0, 70], "nice": false},
                 "axis": {"values": [0, 10, 20, 30, 40, 50, 60, 70], "tickCount": 20, "tickSize": 3, "title": "Counts", "titlePadding": 9}}
         }},
        {"data": {"name": "gates"}, "transform": [{"filter": "datum.panel == 5"}], "mark": {"type": "rule", "color": "black", "strokeWidth": 2},
         "encoding": {"x": {"field": "start", "type": "quantitative"}, "x2": {"datum": 4}, "y": {"field": "level", "type": "quantitative"}}},
        {"data": {"name": "gates"}, "transform": [{"filter": "datum.panel == 5"}], "mark": {"type": "tick", "orient": "vertical", "color": "black", "thickness": 2, "size": 11},
         "encoding": {"x": {"field": "start", "type": "quantitative"}, "y": {"field": "level", "type": "quantitative"}}},
        {"data": {"name": "gates"}, "transform": [{"filter": "datum.panel == 5"}], "mark": {"type": "text", "fontSize": 6, "fontWeight": "bold", "dy": 8, "baseline": "middle", "color": "black"},
         "encoding": {"x": {"field": "mid", "type": "quantitative"}, "y": {"field": "level", "type": "quantitative"}, "text": {"field": "gate"}}},
        {"data": {"values": [{"day": "d(7+10)"}]}, "mark": {"type": "text", "font": "DejaVu Sans", "fontSize": 22, "align": "left", "baseline": "top", "dx": 4, "dy": 4, "color": "black"},
         "encoding": {"x": {"datum": 0}, "y": {"datum": 70}, "text": {"field": "day"}}},
        {"data": {"values": [{"label": ["EBs 10 days post-", "plating"]}]}, "mark": {"type": "text", "font": "DejaVu Serif", "fontWeight": "bold", "fontSize": 22, "align": "left", "baseline": "top", "lineHeight": 33, "dx": 15, "color": "black"},
         "encoding": {"x": {"datum": 4}, "y": {"datum": 50.5}, "text": {"field": "label"}}}
      ]
    },
    {
      "width": 506, "height": 150,
      "layer": [
        {"data": {"name": "c6"}, "mark": {"type": "line", "color": "black", "strokeWidth": 1.5},
         "encoding": {
           "x": {"field": "logGFP", "type": "quantitative", "scale": {"domain": [0, 4], "nice": false, "zero": false},
                 "axis": {"labelExpr": "datum.value % 1 === 0 ? '10' + ['⁰','¹','²','³','⁴'][round(datum.value)] : ''", "tickSize": {"condition": {"test": "datum.value % 1 === 0", "value": 4}, "value": 2.5}, "title": "GFP"}},
           "y": {"field": "count", "type": "quantitative", "scale": {"domain": [0, 70], "nice": false},
                 "axis": {"values": [0, 10, 20, 30, 40, 50, 60, 70], "tickCount": 20, "tickSize": 3, "title": "Counts", "titlePadding": 9}}
         }},
        {"data": {"name": "gates"}, "transform": [{"filter": "datum.panel == 6"}], "mark": {"type": "rule", "color": "black", "strokeWidth": 2},
         "encoding": {"x": {"field": "start", "type": "quantitative"}, "x2": {"datum": 4}, "y": {"field": "level", "type": "quantitative"}}},
        {"data": {"name": "gates"}, "transform": [{"filter": "datum.panel == 6"}], "mark": {"type": "tick", "orient": "vertical", "color": "black", "thickness": 2, "size": 11},
         "encoding": {"x": {"field": "start", "type": "quantitative"}, "y": {"field": "level", "type": "quantitative"}}},
        {"data": {"name": "gates"}, "transform": [{"filter": "datum.panel == 6"}], "mark": {"type": "text", "fontSize": 6, "fontWeight": "bold", "dy": 8, "baseline": "middle", "color": "black"},
         "encoding": {"x": {"field": "mid", "type": "quantitative"}, "y": {"field": "level", "type": "quantitative"}, "text": {"field": "gate"}}},
        {"data": {"values": [{"day": "d(7+24)"}]}, "mark": {"type": "text", "font": "DejaVu Sans", "fontSize": 22, "align": "left", "baseline": "top", "dx": 4, "dy": 4, "color": "black"},
         "encoding": {"x": {"datum": 0}, "y": {"datum": 70}, "text": {"field": "day"}}},
        {"data": {"values": [{"label": ["EBs 24 days post-", "plating"]}]}, "mark": {"type": "text", "font": "DejaVu Serif", "fontWeight": "bold", "fontSize": 22, "align": "left", "baseline": "top", "lineHeight": 33, "dx": 15, "color": "black"},
         "encoding": {"x": {"datum": 4}, "y": {"datum": 51}, "text": {"field": "label"}}}
      ]
    }
  ]
}
